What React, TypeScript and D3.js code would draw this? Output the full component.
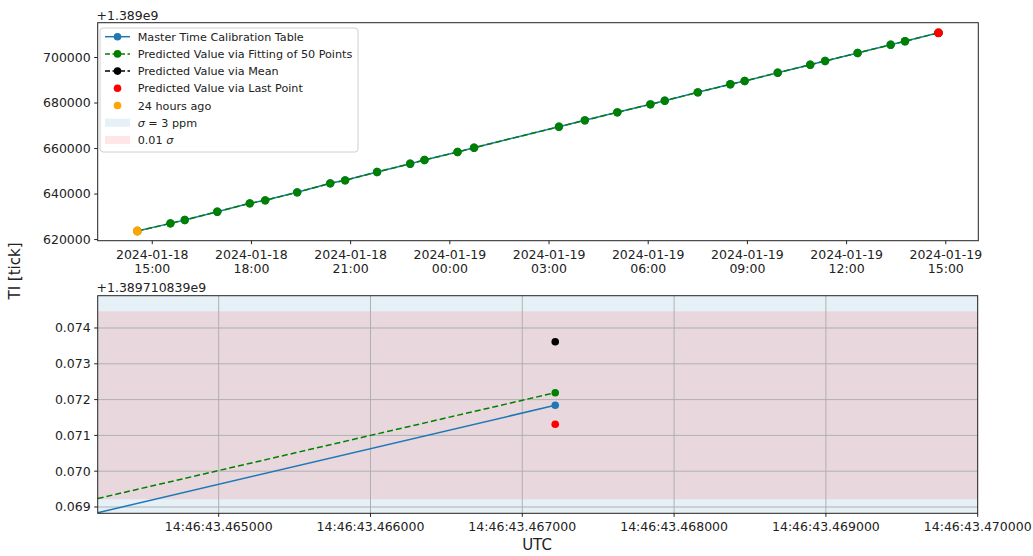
import React, { useEffect, useRef } from "react";
import * as d3 from "d3";

// top panel: master calibration table, TI offset from 1.389e9
const calTimes = [
  "2024-01-18T14:33:00Z", "2024-01-18T15:33:00Z", "2024-01-18T15:59:00Z",
  "2024-01-18T16:58:00Z", "2024-01-18T17:57:00Z", "2024-01-18T18:25:00Z",
  "2024-01-18T19:23:00Z", "2024-01-18T20:23:00Z", "2024-01-18T20:50:00Z",
  "2024-01-18T21:48:00Z", "2024-01-18T22:48:00Z", "2024-01-18T23:14:00Z",
  "2024-01-19T00:14:00Z", "2024-01-19T00:44:00Z", "2024-01-19T03:18:00Z",
  "2024-01-19T04:05:00Z", "2024-01-19T05:04:00Z", "2024-01-19T06:04:00Z",
  "2024-01-19T06:30:00Z", "2024-01-19T07:30:00Z", "2024-01-19T08:29:00Z",
  "2024-01-19T08:55:00Z", "2024-01-19T09:55:00Z", "2024-01-19T10:54:00Z",
  "2024-01-19T11:21:00Z", "2024-01-19T12:20:00Z", "2024-01-19T13:20:00Z",
  "2024-01-19T13:46:00Z", "2024-01-19T14:46:43.467Z",
];
const calValues = [
  623736, 627121, 628571, 632220, 635912, 637231, 640747, 644703, 646022,
  649670, 653319, 654945, 658462, 660352, 669582, 672396, 675912, 679428,
  681011, 684703, 688220, 689670, 693319, 696835, 698462, 701978, 705626,
  707121, 710839,
];
const topTimeDomain = ["2024-01-18T13:21:00Z", "2024-01-19T15:59:00Z"];
const topValueDomain = [619500, 715300];
const topYTicks = [620000, 640000, 660000, 680000, 700000];

// bottom panel: zoom on last point, time in microseconds after 14:46:43, TI offset from 1.389710839e9
const zoomTimesUs = [464203, 467217];
const zoomMaster = [0.06884, 0.071841];
const zoomFit = [0.069237, 0.072193];
const zoomMean = 0.073617;
const zoomLast = 0.07131;
const sigmaBand = [0.06, 0.08];
const hundredthSigmaBand = [0.069215, 0.074466];
const zoomTimeDomain = [464203, 470000];
const zoomValueDomain = [0.068824, 0.074902];
const zoomXTicks = [465000, 466000, 467000, 468000, 469000, 470000];
const zoomYTicks = [0.069, 0.07, 0.071, 0.072, 0.073, 0.074];

const legendLabels = [
  "Master Time Calibration Table",
  "Predicted Value via Fitting of 50 Points",
  "Predicted Value via Mean",
  "Predicted Value via Last Point",
  "24 hours ago",
];

const FONT = "DejaVu Sans, sans-serif";
const BLUE = "#1f77b4";

function App() {
  const ref = useRef<SVGSVGElement>(null);

  useEffect(() => {
    const svg = d3.select(ref.current);
    svg.selectAll("*").remove();

    const tick = 12.5;

    // ---------- top panel ----------
    const T = { l: 97.7, r: 978.3, t: 22.7, b: 240.7 };
    const x1 = d3.scaleUtc().domain(topTimeDomain.map(s => new Date(s))).range([T.l, T.r]);
    const y1 = d3.scaleLinear().domain(topValueDomain).range([T.b, T.t]);
    const pts = calTimes.map((t, i) => ({ t: new Date(t), v: calValues[i] }));

    const top = svg.append("g");
    const line1 = d3.line<{ t: Date; v: number }>().x(d => x1(d.t)).y(d => y1(d.v));

    top.append("path").datum(pts).attr("d", line1).attr("fill", "none")
      .attr("stroke", BLUE).attr("stroke-width", 1.5);
    top.selectAll("circle.m").data(pts).enter().append("circle")
      .attr("cx", d => x1(d.t)).attr("cy", d => y1(d.v)).attr("r", 4.2).attr("fill", BLUE);
    top.append("path").datum(pts).attr("d", line1).attr("fill", "none")
      .attr("stroke", "green").attr("stroke-width", 1.5).attr("stroke-dasharray", "6,3");
    top.selectAll("circle.f").data(pts).enter().append("circle")
      .attr("cx", d => x1(d.t)).attr("cy", d => y1(d.v)).attr("r", 4.2).attr("fill", "green");
    const last = pts[pts.length - 1];
    top.append("circle").attr("cx", x1(last.t)).attr("cy", y1(last.v)).attr("r", 3.9).attr("fill", "black");
    top.append("circle").attr("cx", x1(last.t)).attr("cy", y1(last.v)).attr("r", 4.5).attr("fill", "red");
    top.append("circle").attr("cx", x1(pts[0].t)).attr("cy", y1(pts[0].v)).attr("r", 4.5).attr("fill", "orange");

    top.append("rect").attr("x", T.l).attr("y", T.t).attr("width", T.r - T.l).attr("height", T.b - T.t)
      .attr("fill", "none").attr("stroke", "#222").attr("stroke-width", 1);

    const fmtDay = d3.utcFormat("%Y-%m-%d");
    const fmtHour = d3.utcFormat("%H:%M");
    const xt = x1.ticks(d3.utcHour.every(3) as any);
    xt.forEach(d => {
      const g = top.append("g").attr("transform", `translate(${x1(d)},${T.b})`);
      g.append("line").attr("y2", 3.5).attr("stroke", "#222");
      g.append("text").attr("y", 18.5).attr("text-anchor", "middle").attr("font-family", FONT)
        .attr("font-size", tick).attr("fill", "#222").text(fmtDay(d));
      g.append("text").attr("y", 32.5).attr("text-anchor", "middle").attr("font-family", FONT)
        .attr("font-size", tick).attr("fill", "#222").text(fmtHour(d));
    });
    topYTicks.forEach(v => {
      const g = top.append("g").attr("transform", `translate(${T.l},${y1(v)})`);
      g.append("line").attr("x2", -3.5).attr("stroke", "#222");
      g.append("text").attr("x", -7).attr("dy", "0.35em").attr("text-anchor", "end").attr("font-family", FONT)
        .attr("font-size", tick).attr("fill", "#222").text(d3.format("d")(v));
    });
    top.append("text").attr("x", 96.5).attr("y", 19.5).attr("font-family", FONT)
      .attr("font-size", tick).attr("fill", "#222").text("+1.389e9");

    // legend
    const lg = top.append("g");
    lg.append("rect").attr("x", 100).attr("y", 28).attr("width", 258).attr("height", 124).attr("rx", 3)
      .attr("fill", "white").attr("fill-opacity", 0.85).attr("stroke", "#d0d0d0");
    const rowY = (i: number) => 36.7 + i * 17.2;
    const handles = [
      { c: BLUE, dash: null, line: true },
      { c: "green", dash: "5,2.5", line: true },
      { c: "black", dash: "5,2.5", line: true },
      { c: "red", dash: null, line: false },
      { c: "orange", dash: null, line: false },
    ];
    handles.forEach((h, i) => {
      const y = rowY(i);
      if (h.line) {
        const ln = lg.append("line").attr("x1", 105).attr("x2", 130).attr("y1", y).attr("y2", y)
          .attr("stroke", h.c).attr("stroke-width", 1.5);
        if (h.dash) ln.attr("stroke-dasharray", h.dash);
      }
      lg.append("circle").attr("cx", 117.5).attr("cy", y).attr("r", 3.8).attr("fill", h.c);
      lg.append("text").attr("x", 137.7).attr("y", y).attr("dy", "0.36em").attr("font-family", FONT)
        .attr("font-size", 11.2).attr("fill", "#222").text(legendLabels[i]);
    });
    lg.append("rect").attr("x", 105).attr("y", rowY(5) - 4).attr("width", 25).attr("height", 8)
      .attr("fill", BLUE).attr("fill-opacity", 0.11);
    const t5 = lg.append("text").attr("x", 137.7).attr("y", rowY(5)).attr("dy", "0.36em")
      .attr("font-family", FONT).attr("font-size", 11.2).attr("fill", "#222");
    t5.append("tspan").attr("font-style", "italic").text("σ");
    t5.append("tspan").text(" = 3 ppm");
    lg.append("rect").attr("x", 105).attr("y", rowY(6) - 4).attr("width", 25).attr("height", 8)
      .attr("fill", "red").attr("fill-opacity", 0.1);
    const t6 = lg.append("text").attr("x", 137.7).attr("y", rowY(6)).attr("dy", "0.36em")
      .attr("font-family", FONT).attr("font-size", 11.2).attr("fill", "#222");
    t6.append("tspan").text("0.01 ");
    t6.append("tspan").attr("font-style", "italic").text("σ");

    // ---------- bottom panel ----------
    const B = { l: 97.7, r: 977.7, t: 295.7, b: 513.3 };
    const x2 = d3.scaleLinear().domain(zoomTimeDomain).range([B.l, B.r]);
    const y2 = d3.scaleLinear().domain(zoomValueDomain).range([B.b, B.t]);
    const bot = svg.append("g");
    svg.append("defs").append("clipPath").attr("id", "clipB").append("rect")
      .attr("x", B.l).attr("y", B.t).attr("width", B.r - B.l).attr("height", B.b - B.t);
    const plot = bot.append("g").attr("clip-path", "url(#clipB)");

    plot.append("rect").attr("x", B.l).attr("width", B.r - B.l)
      .attr("y", y2(sigmaBand[1])).attr("height", y2(sigmaBand[0]) - y2(sigmaBand[1]))
      .attr("fill", BLUE).attr("fill-opacity", 0.11);
    plot.append("rect").attr("x", B.l).attr("width", B.r - B.l)
      .attr("y", y2(hundredthSigmaBand[1])).attr("height", y2(hundredthSigmaBand[0]) - y2(hundredthSigmaBand[1]))
      .attr("fill", "red").attr("fill-opacity", 0.1);

    zoomXTicks.forEach(t => {
      plot.append("line").attr("x1", x2(t)).attr("x2", x2(t)).attr("y1", B.t).attr("y2", B.b)
        .attr("stroke", "#b0b0b0").attr("stroke-width", 1);
    });
    zoomYTicks.forEach(v => {
      plot.append("line").attr("x1", B.l).attr("x2", B.r).attr("y1", y2(v)).attr("y2", y2(v))
        .attr("stroke", "#b0b0b0").attr("stroke-width", 1);
    });

    const zm = zoomTimesUs.map((t, i) => ({ t, v: zoomMaster[i] }));
    const zf = zoomTimesUs.map((t, i) => ({ t, v: zoomFit[i] }));
    const line2 = d3.line<{ t: number; v: number }>().x(d => x2(d.t)).y(d => y2(d.v));
    plot.append("path").datum(zm).attr("d", line2).attr("fill", "none").attr("stroke", BLUE).attr("stroke-width", 1.5);
    plot.append("path").datum(zf).attr("d", line2).attr("fill", "none").attr("stroke", "green")
      .attr("stroke-width", 1.5).attr("stroke-dasharray", "6,3");
    const tLast = zoomTimesUs[zoomTimesUs.length - 1];
    [
      { v: zoomMaster[zoomMaster.length - 1], c: BLUE },
      { v: zoomFit[zoomFit.length - 1], c: "green" },
      { v: zoomMean, c: "black" },
      { v: zoomLast, c: "red" },
    ].forEach(p => {
      plot.append("circle").attr("cx", x2(tLast)).attr("cy", y2(p.v)).attr("r", 3.8).attr("fill", p.c);
    });

    bot.append("rect").attr("x", B.l).attr("y", B.t).attr("width", B.r - B.l).attr("height", B.b - B.t)
      .attr("fill", "none").attr("stroke", "#222").attr("stroke-width", 1);

    const fmtUs = d3.format("06d");
    zoomXTicks.forEach(t => {
      const g = bot.append("g").attr("transform", `translate(${x2(t)},${B.b})`);
      g.append("line").attr("y2", 3.5).attr("stroke", "#222");
      g.append("text").attr("y", 18.2).attr("text-anchor", "middle").attr("font-family", FONT)
        .attr("font-size", tick).attr("fill", "#222").text(`14:46:43.${fmtUs(t)}`);
    });
    zoomYTicks.forEach(v => {
      const g = bot.append("g").attr("transform", `translate(${B.l},${y2(v)})`);
      g.append("line").attr("x2", -3.5).attr("stroke", "#222");
      g.append("text").attr("x", -7).attr("dy", "0.35em").attr("text-anchor", "end").attr("font-family", FONT)
        .attr("font-size", tick).attr("fill", "#222").text(d3.format(".3f")(v));
    });
    bot.append("text").attr("x", 96.5).attr("y", 292).attr("font-family", FONT)
      .attr("font-size", tick).attr("fill", "#222").text("+1.389710839e9");

    svg.append("text").attr("transform", "translate(20,271) rotate(-90)").attr("text-anchor", "middle")
      .attr("font-family", FONT).attr("font-size", 15).attr("fill", "#222").text("TI [tick]");
    svg.append("text").attr("x", 537).attr("y", 550).attr("text-anchor", "middle")
      .attr("font-family", FONT).attr("font-size", 15).attr("fill", "#222").text("UTC");
  }, []);

  return (
    <svg ref={ref} width={1033} height={556}
      style={{ position: "absolute", left: 0, top: 0, background: "white" }} />
  );
}

export default App;
